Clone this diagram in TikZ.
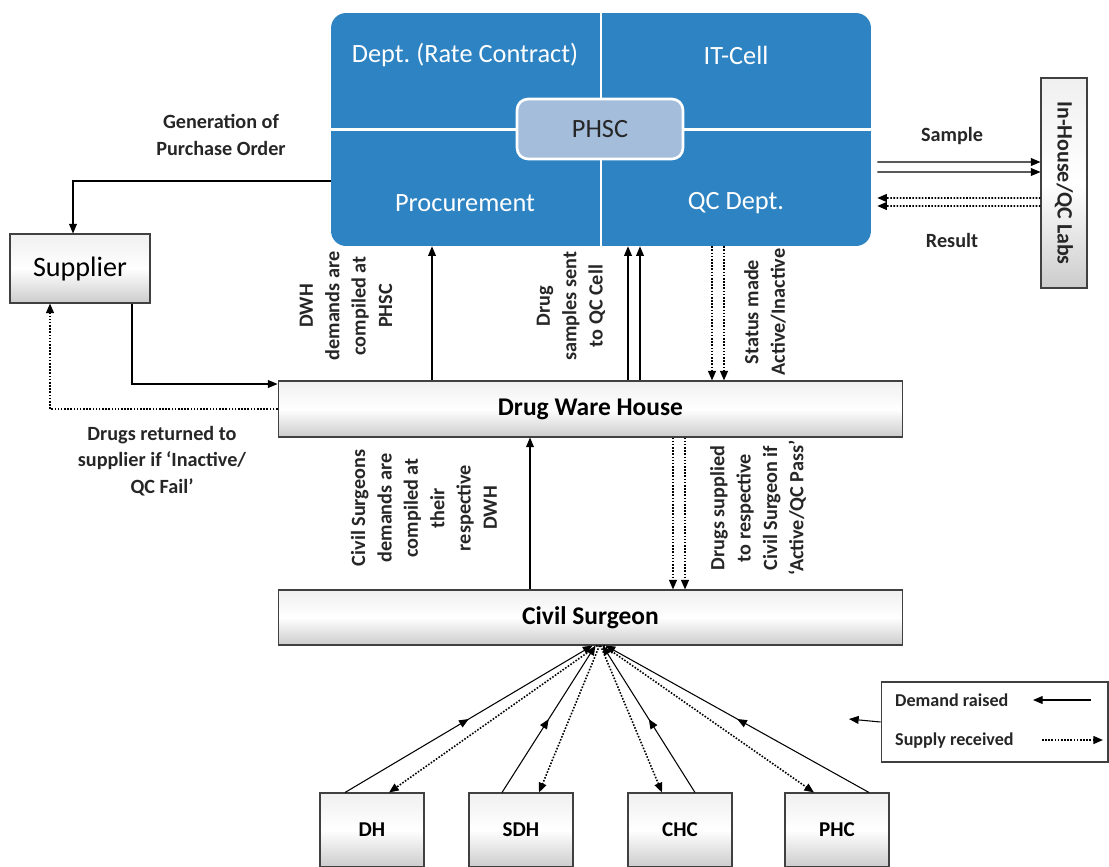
\documentclass[tikz,border=0pt]{standalone}
\usepackage{fontspec}
\setmainfont{Carlito}
\usetikzlibrary{arrows.meta,positioning,decorations.markings}
\definecolor{phscblue}{RGB}{46,131,194}
\definecolor{phsccore}{RGB}{163,189,219}
\frenchspacing
\tikzset{
  hub/.style={fill=phscblue,rounded corners=0.3cm,minimum width=10.8cm,minimum height=4.66cm,inner sep=0pt},
  core/.style={fill=phsccore,draw=white,line width=1.5pt,rounded corners=0.22cm,minimum width=3.32cm,minimum height=1.2cm,font=\fontsize{15}{18}\selectfont,text=black!85},
  quad/.style={text=white,font=\fontsize{15}{18}\selectfont},
  unit/.style={draw=black!75,line width=0.6pt,top color=gray!12,bottom color=gray!40,middle color=white,inner sep=0pt},
  lbl/.style={font=\fontsize{11.5}{15}\selectfont\bfseries,align=center,text=black!85},
  vlbl/.style={lbl,rotate=90},
  flow/.style={->,line width=0.6pt},
  back/.style={->,line width=0.9pt,dash pattern=on 0.9pt off 0.9pt},
  demand/.style={flow,postaction={decorate},decoration={markings,mark=at position 0.5 with {\arrow{>}}}}
}
\begin{document}
\begin{tikzpicture}[x=0.02cm,y=-0.02cm,>={Triangle[length=5.5pt,width=4.5pt]}]
\useasboundingbox (0,0) rectangle (1109,866);
% PHSC block
\node (phsc) [hub] at (601,129.5) {};
\draw[white,line width=1.5pt] (phsc.north) -- (phsc.south) (phsc.west) -- (phsc.east);
\node (core) [core] at (600,129) {PHSC};
\node (rate) [quad] at (465,55) {Dept. (Rate Contract)};
\node (itcell) [quad] at (736,55) {IT-Cell};
\node (proc) [quad] at (465,203) {Procurement};
\node (qc) [quad] at (736,203) {QC Dept.};
%
\node (supplier) [unit,minimum width=2.8cm,minimum height=1.38cm,font=\fontsize{16}{19}\selectfont] at (80,268.5) {Supplier};
\node (labs) [unit,minimum width=0.92cm,minimum height=4.2cm] at (1064,183) {};
\node [lbl,font=\fontsize{12.5}{15}\selectfont\bfseries,rotate=-90] at (labs) {In-House/QC Labs};
\node (dwh) [unit,minimum width=12.5cm,minimum height=1.12cm,font=\fontsize{14.5}{17}\selectfont\bfseries] at (590.5,409) {Drug Ware House};
\node (cs) [unit,minimum width=12.5cm,minimum height=1.1cm,font=\fontsize{14.5}{17}\selectfont\bfseries] at (590.5,617.5) {Civil Surgeon};
\node (dh) [unit,minimum width=2.08cm,minimum height=1.48cm,font=\fontsize{12}{14}\selectfont\bfseries] at (372,830) {DH};
\node (sdh) [unit,minimum width=2.08cm,minimum height=1.48cm,font=\fontsize{12}{14}\selectfont\bfseries] at (521,830) {SDH};
\node (chc) [unit,minimum width=2.08cm,minimum height=1.48cm,font=\fontsize{12}{14}\selectfont\bfseries] at (680,830) {CHC};
\node (phc) [unit,minimum width=2.08cm,minimum height=1.48cm,font=\fontsize{12}{14}\selectfont\bfseries] at (837,830) {PHC};
%
% labels
\node (po) [lbl] at (221,135) {Generation of\\Purchase Order};
\node (ret) [lbl] at (162,461) {Drugs returned to\\supplier if ‘Inactive/\\QC Fail’};
\node (smp) [lbl] at (952,136) {Sample};
\node (res) [lbl] at (952,240) {Result};
\node (dwhdem) [vlbl] at (346,306) {DWH\\demands are\\compiled at\\PHSC};
\node (sent) [vlbl] at (571,306) {Drug\\samples sent\\to QC Cell};
\node (stat) [vlbl] at (765,312) {Status made\\Active/Inactive};
\node (csdem) [vlbl] at (424,508) {Civil Surgeons\\demands are\\compiled at\\their\\respective\\DWH};
\node (supp) [vlbl] at (758,508) {Drugs supplied\\to respective\\Civil Surgeon if\\‘Active/QC Pass’};
%
% x positions of the vertical links
\coordinate (up1) at (432,0);
\coordinate (up2) at (628,0);
\coordinate (up3) at (640,0);
\coordinate (dn1) at (712,0);
\coordinate (dn2) at (724,0);
\coordinate (up4) at (530,0);
\coordinate (dn3) at (673,0);
\coordinate (dn4) at (685,0);
%
\draw[flow] ([yshift=-1.03cm]phsc.west) -| ([xshift=-0.14cm]supplier.north);
\draw[flow] ([xshift=1.04cm]supplier.south) |- ([yshift=0.5cm]dwh.west);
\draw[back] (dwh.west) -| ([xshift=-0.6cm]supplier.south);
\draw[flow] (dwh.north -| up1) -- (phsc.south -| up1);
\draw[flow] (dwh.north -| up2) -- (phsc.south -| up2);
\draw[flow] (dwh.north -| up3) -- (phsc.south -| up3);
\draw[back] (phsc.south -| dn1) -- (dwh.north -| dn1);
\draw[back] (phsc.south -| dn2) -- (dwh.north -| dn2);
\draw[flow] (cs.north -| up4) -- (dwh.south -| up4);
\draw[back] (dwh.south -| dn3) -- (cs.north -| dn3);
\draw[back] (dwh.south -| dn4) -- (cs.north -| dn4);
%
\draw[flow] ([xshift=0.12cm,yshift=-0.65cm]phsc.east) -- ([yshift=0.42cm]labs.west);
\draw[flow] ([xshift=0.12cm,yshift=-0.85cm]phsc.east) -- ([yshift=0.22cm]labs.west);
\draw[back] ([yshift=-0.3cm]labs.west) -- ([xshift=0.12cm,yshift=-1.37cm]phsc.east);
\draw[back] ([yshift=-0.46cm]labs.west) -- ([xshift=0.12cm,yshift=-1.53cm]phsc.east);
%
% facilities to civil surgeon
\draw[demand] ([xshift=-0.54cm]dh.north) -- ([xshift=0.04cm]cs.south);
\draw[back] ([xshift=0.14cm]cs.south) -- ([xshift=0.34cm]dh.north);
\draw[demand] ([xshift=-0.38cm]sdh.north) -- ([xshift=0.1cm]cs.south);
\draw[back] ([xshift=0.18cm]cs.south) -- ([xshift=0.36cm]sdh.north);
\draw[back] ([xshift=0.2cm]cs.south) -- ([xshift=-0.36cm]chc.north);
\draw[demand] ([xshift=0.3cm]chc.north) -- ([xshift=0.24cm]cs.south);
\draw[back] ([xshift=0.26cm]cs.south) -- ([xshift=-0.46cm]phc.north);
\draw[demand] ([xshift=0.64cm]phc.north) -- ([xshift=0.3cm]cs.south);
%
% legend
\node (legend) [draw=black!75,line width=0.6pt,minimum width=4.54cm,minimum height=1.6cm] at (994.5,722) {};
\node (dem) [lbl,font=\fontsize{10.3}{13}\selectfont\bfseries,anchor=west] at (889,700) {Demand raised};
\node (sup) [lbl,font=\fontsize{10.3}{13}\selectfont\bfseries,anchor=west] at (889,741) {Supply received};
\coordinate (demA) at (1091,700);
\coordinate (demB) at (1033,700);
\coordinate (supA) at (1042,740);
\coordinate (supB) at (1103,740);
\coordinate (legtip) at (849,719);
\draw[flow] (demA) -- (demB);
\draw[back] (supA) -- (supB);
\draw[flow] (legend.west) -- (legtip);
\end{tikzpicture}
\end{document}
